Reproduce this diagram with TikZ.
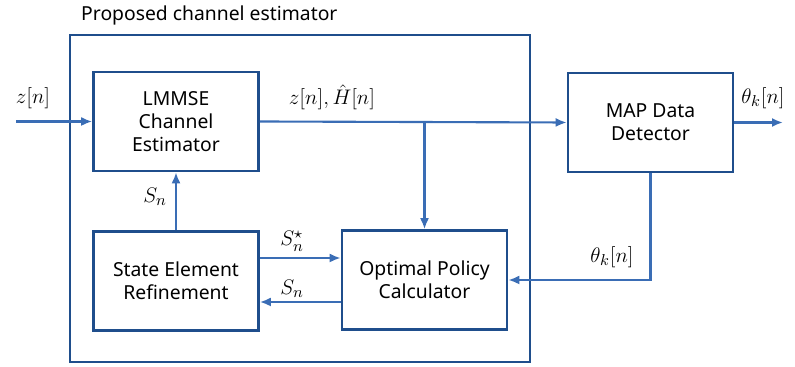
\documentclass[tikz,border=0pt]{standalone}
\usepackage{amsmath}
\usepackage{fontspec}
\setmainfont{Noto Sans}
\usepackage{tikz}
\usetikzlibrary{arrows.meta}
\usepackage{xcolor}
\definecolor{boxblue}{RGB}{31,78,140}
\definecolor{lineblue}{RGB}{58,109,181}

\tikzset{
  blk/.style={draw=boxblue, line width=1.5pt, minimum width=3.3cm, minimum height=1.98cm, align=center, font=\fontsize{11}{13}\selectfont, inner sep=0pt},
  arr/.style={lineblue, line width=1.2pt, -{Latex[length=2.2mm,width=1.8mm]}},
  lbl/.style={font=\fontsize{13}{15}\selectfont, inner sep=1pt}
}

\begin{document}
\begin{tikzpicture}
\useasboundingbox (0,0) rectangle (15.9,7.34);
% outer frame
\node [draw=boxblue, line width=1.5pt, minimum width=9.2cm, minimum height=6.54cm, inner sep=0pt] (pce) at (6.0,3.37) {};
\node [anchor=west, font=\fontsize{11}{13}\selectfont] (pcelabel) at (1.5,7.04) {Proposed channel estimator};

% blocks
\node [blk] (lmmse) at (3.52,4.91) {LMMSE\\Channel\\Estimator};
\node [blk] (map) at (13.01,4.89) {MAP Data\\Detector};
\node [blk] (sre) at (3.52,1.72) {State Element\\Refinement};
\node [blk] (opt) at (8.49,1.74) {Optimal Policy\\Calculator};

\coordinate (in) at (0.32,4.91);
\coordinate (out) at (15.66,4.89);

% connectors
\draw [arr] (in) -- (lmmse.west);
\draw [arr] (lmmse.east) -- (map.west);
\draw [arr] (map.east) -- (out);
\draw [arr] (opt.north |- lmmse.east) -- (opt.north);
\draw [arr] (sre.north) -- (lmmse.south);
\draw [arr] (sre.east |- 0,2.18) -- (opt.west |- 0,2.18);
\draw [arr] (opt.west |- 0,1.3) -- (sre.east |- 0,1.3);
\draw [arr] (map.south) |- (opt.east);

% labels
\node [lbl] (lz) at (0.66,5.38) {$z[n]$};
\node [lbl] (lzh) at (6.64,5.4) {$z[n],\hat{H}[n]$};
\node [lbl] (lth) at (15.26,5.38) {$\theta_k[n]$};
\node [lbl] (ls1) at (3.1,3.4) {$S_n$};
\node [lbl] (lss) at (5.84,2.52) {$S_n^{\star}$};
\node [lbl] (ls2) at (5.84,1.56) {$S_n$};
\node [lbl] (lth2) at (12.24,2.2) {$\theta_k[n]$};

\end{tikzpicture}
\end{document}
